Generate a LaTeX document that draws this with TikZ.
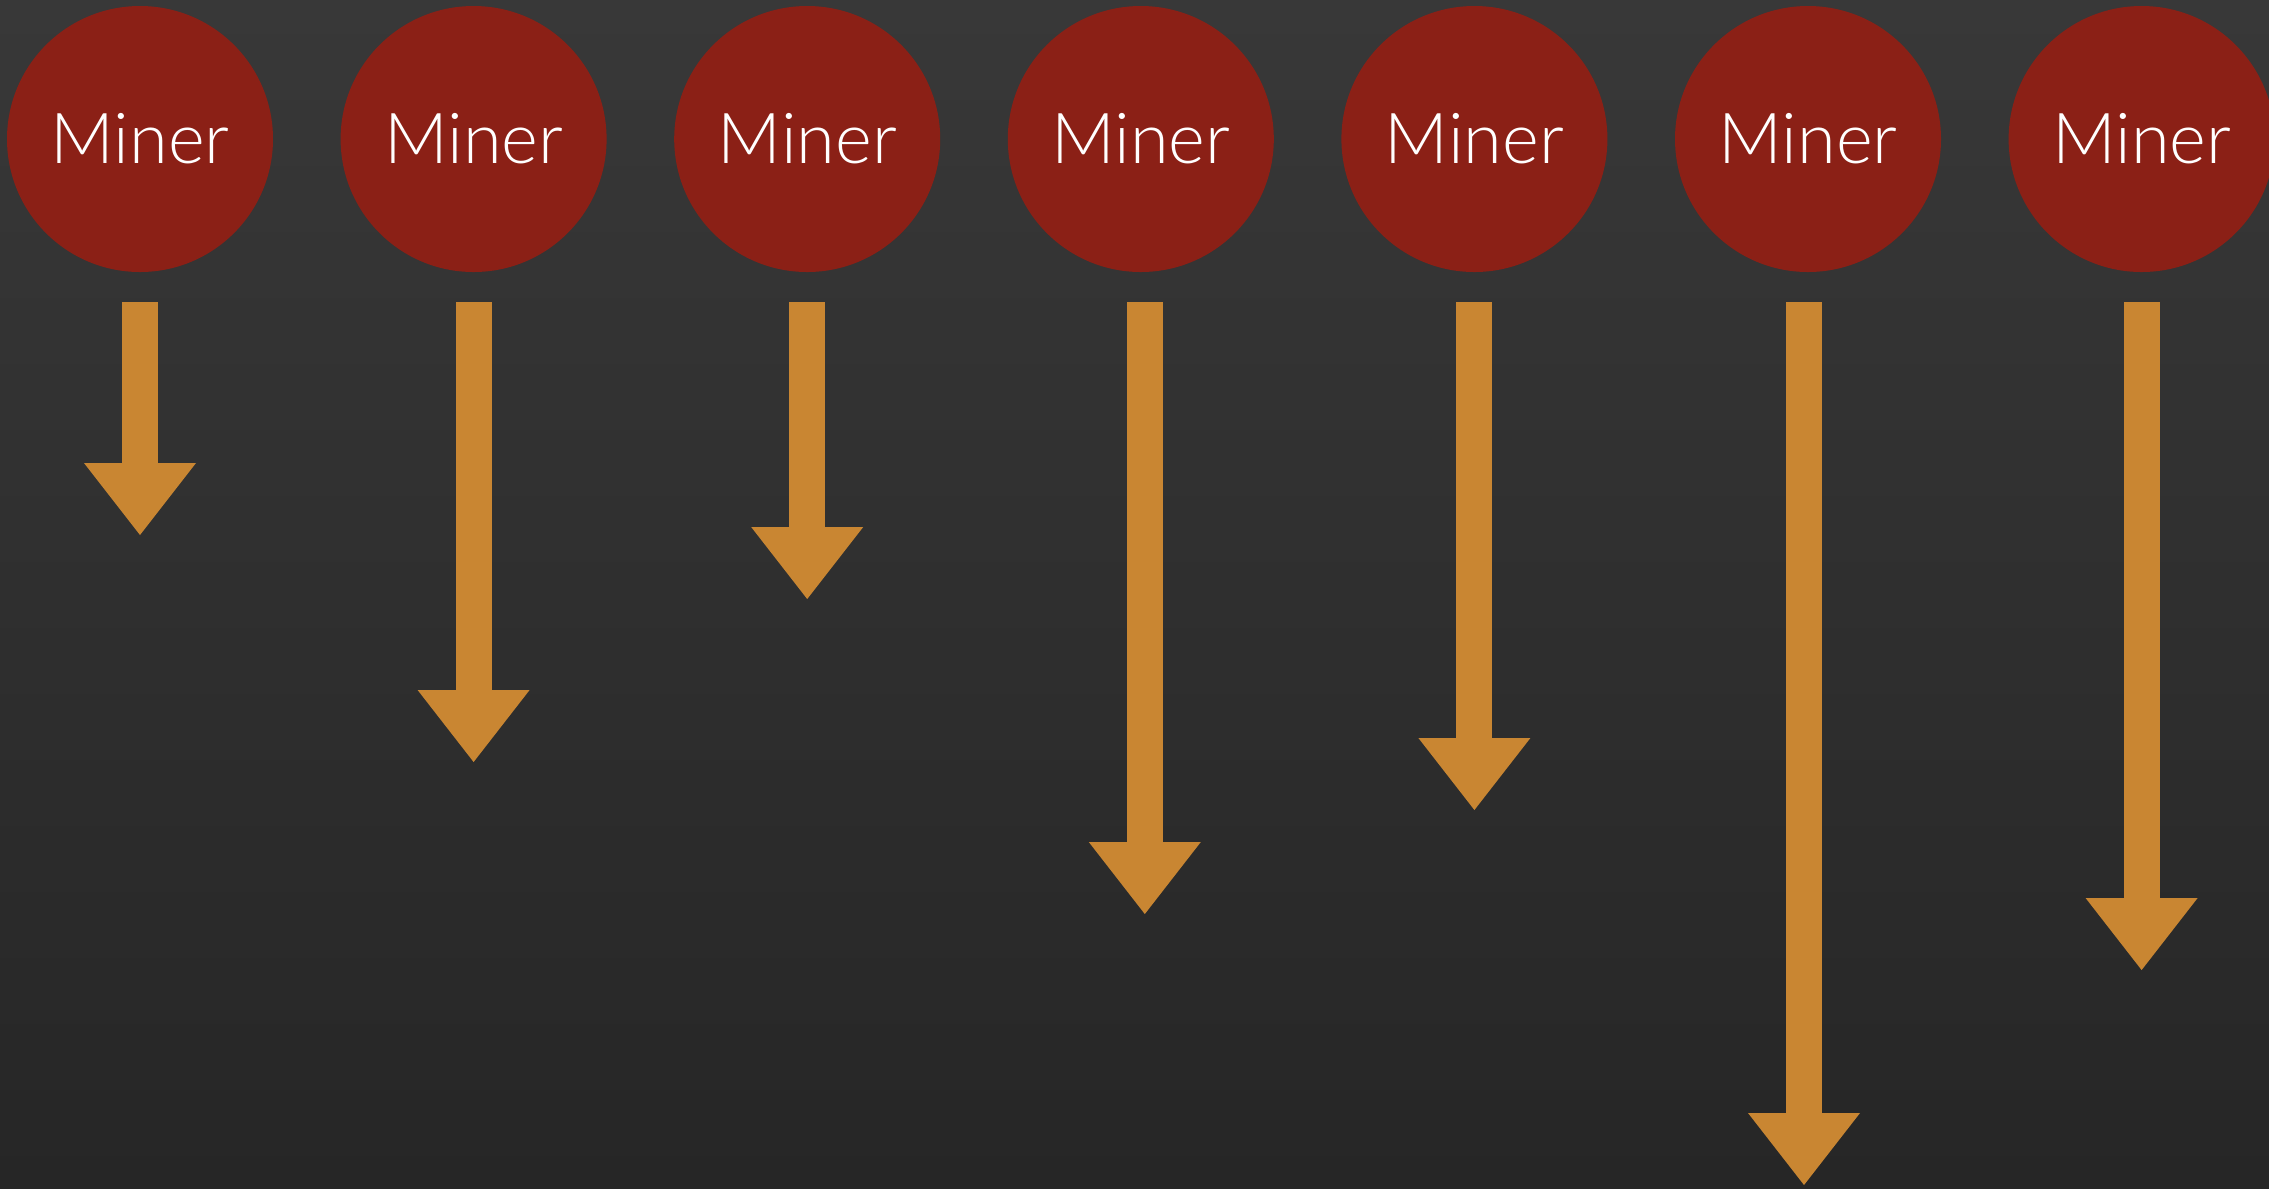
\documentclass[tikz,border=0pt]{standalone}
\usepackage{fontspec}
\newfontfamily\minerfont{Lato Light}
\usepackage{tikz}
\usetikzlibrary{positioning, arrows.meta}

\definecolor{bgtop}{RGB}{56,56,56}
\definecolor{bgbot}{RGB}{38,38,38}
\definecolor{minerred}{RGB}{139,32,22}
\definecolor{payoutorange}{RGB}{201,134,50}

\begin{document}
\begin{tikzpicture}[
        node distance = 6.76mm,
        miner/.style  = {circle, fill=minerred, minimum size=26.6mm, inner sep=0pt, outer sep=0pt,
                         text=white, font=\minerfont\fontsize{20}{24}\selectfont},
        payout/.style = {draw=payoutorange, line width=3.6mm,
                         -{Triangle[width=11.2mm, length=7.2mm, line width=0pt]}},
    ]
        % backdrop
        \fill[top color=bgtop, bottom color=bgbot] (0,0) rectangle (22.69,-11.88);
        \useasboundingbox (0,0) rectangle (22.69,-11.88);

        \node[miner] (m1) at (1.40,-1.39) {Miner};
        \node[miner, right=of m1] (m2) {Miner};
        \node[miner, right=of m2] (m3) {Miner};
        \node[miner, right=of m3] (m4) {Miner};
        \node[miner, right=of m4] (m5) {Miner};
        \node[miner, right=of m5] (m6) {Miner};
        \node[miner, right=of m6] (m7) {Miner};

        \draw[payout] ([yshift=-3mm]m1.south) -- ++(0,-2.33);
        \draw[payout] ([yshift=-3mm]m2.south) -- ++(0,-4.60);
        \draw[payout] ([yshift=-3mm]m3.south) -- ++(0,-2.97);
        \draw[payout] ([xshift=0.4mm, yshift=-3mm]m4.south) -- ++(0,-6.12);
        \draw[payout] ([yshift=-3mm]m5.south) -- ++(0,-5.08);
        \draw[payout] ([xshift=-0.4mm, yshift=-3mm]m6.south) -- ++(0,-8.83);
        \draw[payout] ([yshift=-3mm]m7.south) -- ++(0,-6.68);
    \end{tikzpicture}
\end{document}
